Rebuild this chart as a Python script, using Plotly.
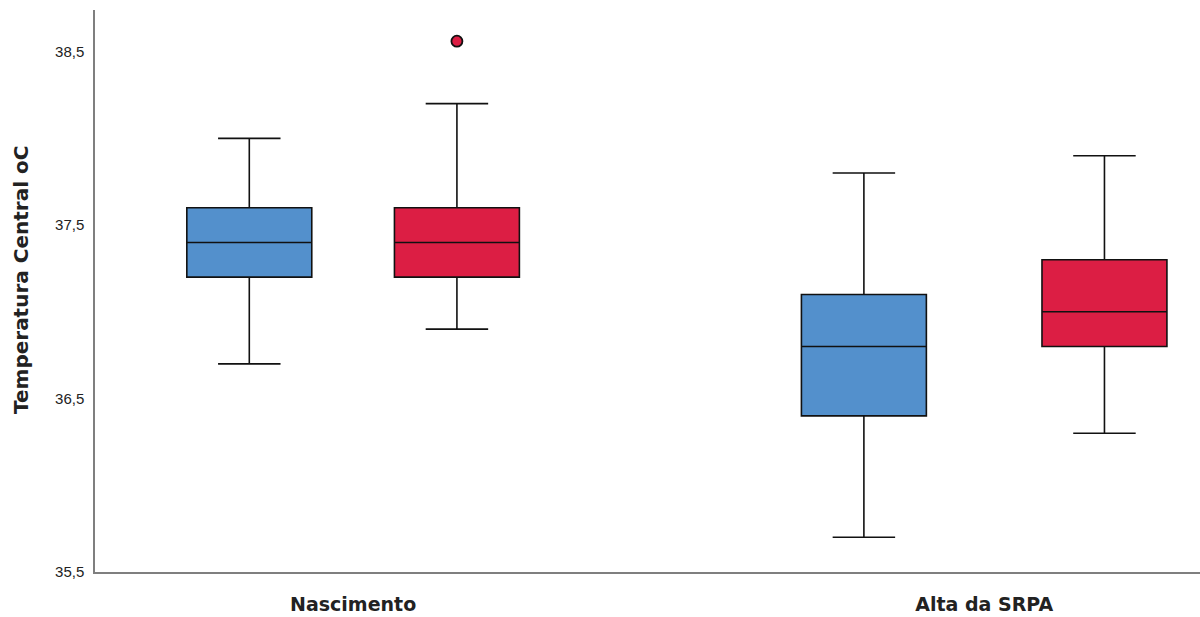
import plotly.graph_objects as go

# ---- data ----
categories = ["Nascimento", "Alta da SRPA"]
series_names = ["Grupo A", "Grupo B"]
series_colors = ["#5390cc", "#dc1e44"]

# per series: values for [Nascimento, Alta da SRPA]
lower_a = [36.7, 35.7]
q1_a = [37.2, 36.4]
median_a = [37.4, 36.8]
q3_a = [37.6, 37.1]
upper_a = [38.0, 37.8]

lower_b = [36.9, 36.3]
q1_b = [37.2, 36.8]
median_b = [37.4, 37.0]
q3_b = [37.6, 37.3]
upper_b = [38.2, 37.9]

outlier_b_cat = ["Nascimento"]
outlier_b_val = [38.56]

y_ticks = [35.5, 36.5, 37.5, 38.5]

# ---- layout helpers ----
group_offsets = [0.1645, 0.1906]   # half-distance between the two boxes in each group
box_width = 0.198

def positions(sign):
    return [i + sign * group_offsets[i] for i in range(len(categories))]

series = [
    (lower_a, q1_a, median_a, q3_a, upper_a, -1),
    (lower_b, q1_b, median_b, q3_b, upper_b, +1),
]

fig = go.Figure()
for k, (lo, q1, md, q3, up, sgn) in enumerate(series):
    fig.add_trace(go.Box(
        x=positions(sgn), lowerfence=lo, q1=q1, median=md, q3=q3, upperfence=up,
        name=series_names[k], width=box_width, whiskerwidth=0.5,
        fillcolor=series_colors[k], line=dict(color="#111111", width=1.6),
        boxpoints=False, showlegend=False, hoverinfo="skip",
    ))

ox = [categories.index(c) + group_offsets[categories.index(c)] for c in outlier_b_cat]
fig.add_trace(go.Scatter(
    x=ox, y=outlier_b_val, mode="markers", showlegend=False,
    marker=dict(color=series_colors[1], size=11, line=dict(color="#111111", width=1.8)),
))

fig.update_layout(
    width=1200, height=617,
    margin=dict(l=95, r=0, t=10, b=45),
    paper_bgcolor="white", plot_bgcolor="white",
    separators=",.",
    showlegend=False,
    annotations=[dict(
        text="<b>Temperatura Central oC</b>", textangle=-90,
        xref="paper", yref="paper", x=-0.0665, y=0.5187,
        xanchor="center", yanchor="middle", showarrow=False,
        font=dict(family="DejaVu Sans", size=20, color="#222222"),
    )],
)
fig.update_xaxes(
    range=[-0.409, 1.342], tickvals=list(range(len(categories))), ticktext=categories,
    showgrid=False, zeroline=False, showline=True, linecolor="#7f7f7f", linewidth=1.5,
    ticks="", ticklabelstandoff=14,
    tickfont=dict(family="DejaVu Sans", size=19, color="#222222", weight="bold"),
)
fig.update_yaxes(
    range=[35.5, 38.74], tickvals=y_ticks, tickformat=".1f",
    showgrid=False, zeroline=False, showline=True, linecolor="#7f7f7f", linewidth=1.5,
    ticks="", ticklabelstandoff=6,
    tickfont=dict(family="Liberation Sans", size=15, color="#222222"),
)

fig.write_html("out.html", config={"displayModeBar": False},
               post_script="document.body.style.margin='0';")
